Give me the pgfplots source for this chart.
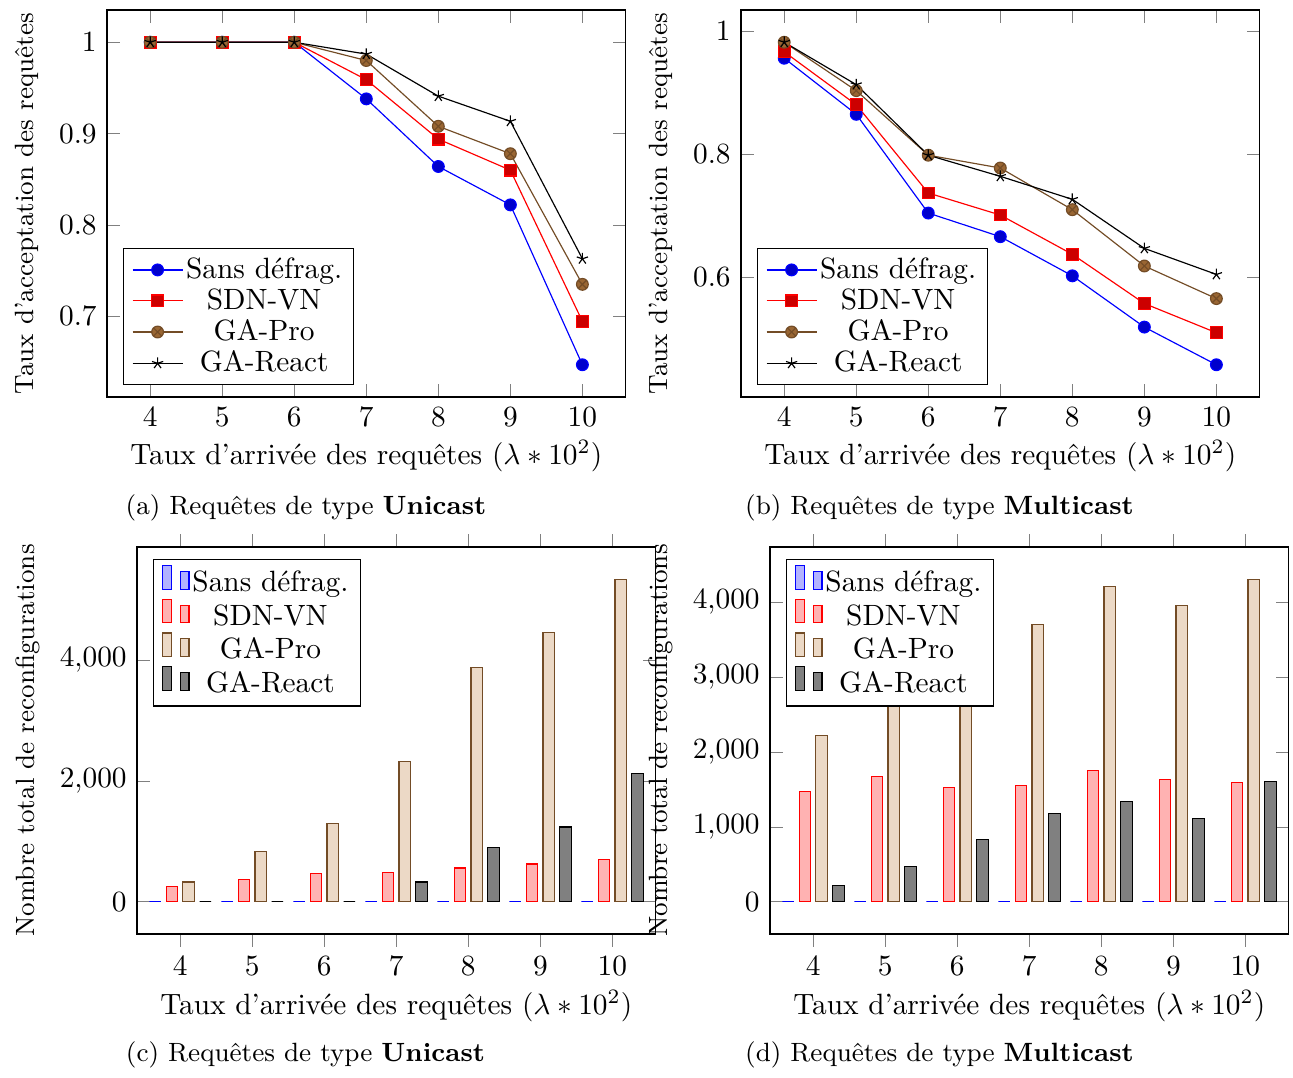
\documentclass[border=0pt]{standalone}
\usepackage{fontspec}
\usepackage{pgfplots}
\pgfplotsset{compat=1.18}
\begin{document}
\begin{tikzpicture}
\path (0pt,0pt) rectangle (440.55pt,-364.57pt);
\pgfplotsset{
  common/.style={
    scale only axis, width=176.7pt, height=131.86pt,
    enlargelimits=false,
    xmin=3.4, xmax=10.6, xtick={4,5,6,7,8,9,10},
    xlabel={Taux d'arrivée des requêtes ($\lambda * 10^2$)},
    xlabel style={yshift=2pt},
    ylabel style={font=\small},
    legend cell align=center,
    legend style={nodes={inner sep=1pt}},
  },
  myline/.style={common,
    ylabel={Taux d'acceptation des requêtes},
    legend style={at={(0.03,0.03)},anchor=south west},
  },
  mybar/.style={common, ybar=1.82pt, bar width=3.9pt,
    ylabel={Nombre total de reconfigurations},
    legend style={at={(0.03,0.97)},anchor=north west},
  },
}
% (a)
\begin{axis}[myline, at={(36.46pt,-135.26pt)}, anchor=south west,
  ymin=0.6117, ymax=1.0353, ytick={0.7,0.8,0.9,1}]
\addplot coordinates {(4,1) (5,1) (6,1) (7,0.938) (8,0.864) (9,0.822) (10,0.647)};
\addplot coordinates {(4,1) (5,1) (6,1) (7,0.959) (8,0.894) (9,0.860) (10,0.6945)};
\addplot coordinates {(4,1) (5,1) (6,1) (7,0.980) (8,0.908) (9,0.878) (10,0.735)};
\addplot coordinates {(4,1) (5,1) (6,1) (7,0.987) (8,0.941) (9,0.9135) (10,0.763)};
\legend{Sans défrag.,SDN-VN,GA-Pro,GA-React}
\end{axis}
% (b)
\begin{axis}[myline, at={(252.47pt,-135.26pt)}, anchor=south west,
  ymin=0.4051, ymax=1.034, ytick={0.6,0.8,1}]
\addplot coordinates {(4,0.9556) (5,0.8645) (6,0.704) (7,0.6656) (8,0.602) (9,0.5187) (10,0.4575)};
\addplot coordinates {(4,0.966) (5,0.880) (6,0.7366) (7,0.7008) (8,0.637) (9,0.557) (10,0.5095)};
\addplot coordinates {(4,0.9816) (5,0.903) (6,0.798) (7,0.7772) (8,0.7095) (9,0.618) (10,0.565)};
\addplot coordinates {(4,0.9816) (5,0.9127) (6,0.798) (7,0.7637) (8,0.7263) (9,0.6466) (10,0.6043)};
\legend{Sans défrag.,SDN-VN,GA-Pro,GA-React}
\end{axis}
% (c)
\begin{axis}[mybar, at={(46.68pt,-318.23pt)}, anchor=south west,
  ymin=-533.5, ymax=5868.5, ytick={0,2000,4000}]
\addplot coordinates {(4,0) (5,0) (6,0) (7,0) (8,0) (9,0) (10,0)};
\addplot coordinates {(4,256) (5,368) (6,464) (7,488) (8,558) (9,624) (10,696)};
\addplot coordinates {(4,328) (5,826) (6,1296) (7,2315) (8,3880) (9,4460) (10,5335)};
\addplot coordinates {(4,0) (5,0) (6,0) (7,328) (8,893) (9,1238) (10,2118)};
\legend{Sans défrag.,SDN-VN,GA-Pro,GA-React}
\end{axis}
% (d)
\begin{axis}[mybar, at={(262.35pt,-318.23pt)}, anchor=south west,
  ymin=-430, ymax=4732, ytick={0,1000,2000,3000,4000}]
\addplot coordinates {(4,0) (5,0) (6,0) (7,0) (8,0) (9,0) (10,0)};
\addplot coordinates {(4,1471) (5,1667) (6,1524) (7,1547) (8,1756) (9,1636) (10,1587)};
\addplot coordinates {(4,2218) (5,3100) (6,3300) (7,3702) (8,4209) (9,3956) (10,4302)};
\addplot coordinates {(4,213) (5,467) (6,831) (7,1178) (8,1333) (9,1111) (10,1604)};
\legend{Sans défrag.,SDN-VN,GA-Pro,GA-React}
\end{axis}
\node[font=\small] at (104.26pt,-173.08pt) {(a) Requêtes de type \textbf{Unicast}};
\node[font=\small] at (320.10pt,-173.08pt) {(b) Requêtes de type \textbf{Multicast}};
\node[font=\small] at (104.09pt,-359.45pt) {(c) Requêtes de type \textbf{Unicast}};
\node[font=\small] at (320.10pt,-359.45pt) {(d) Requêtes de type \textbf{Multicast}};
\end{tikzpicture}
\end{document}
